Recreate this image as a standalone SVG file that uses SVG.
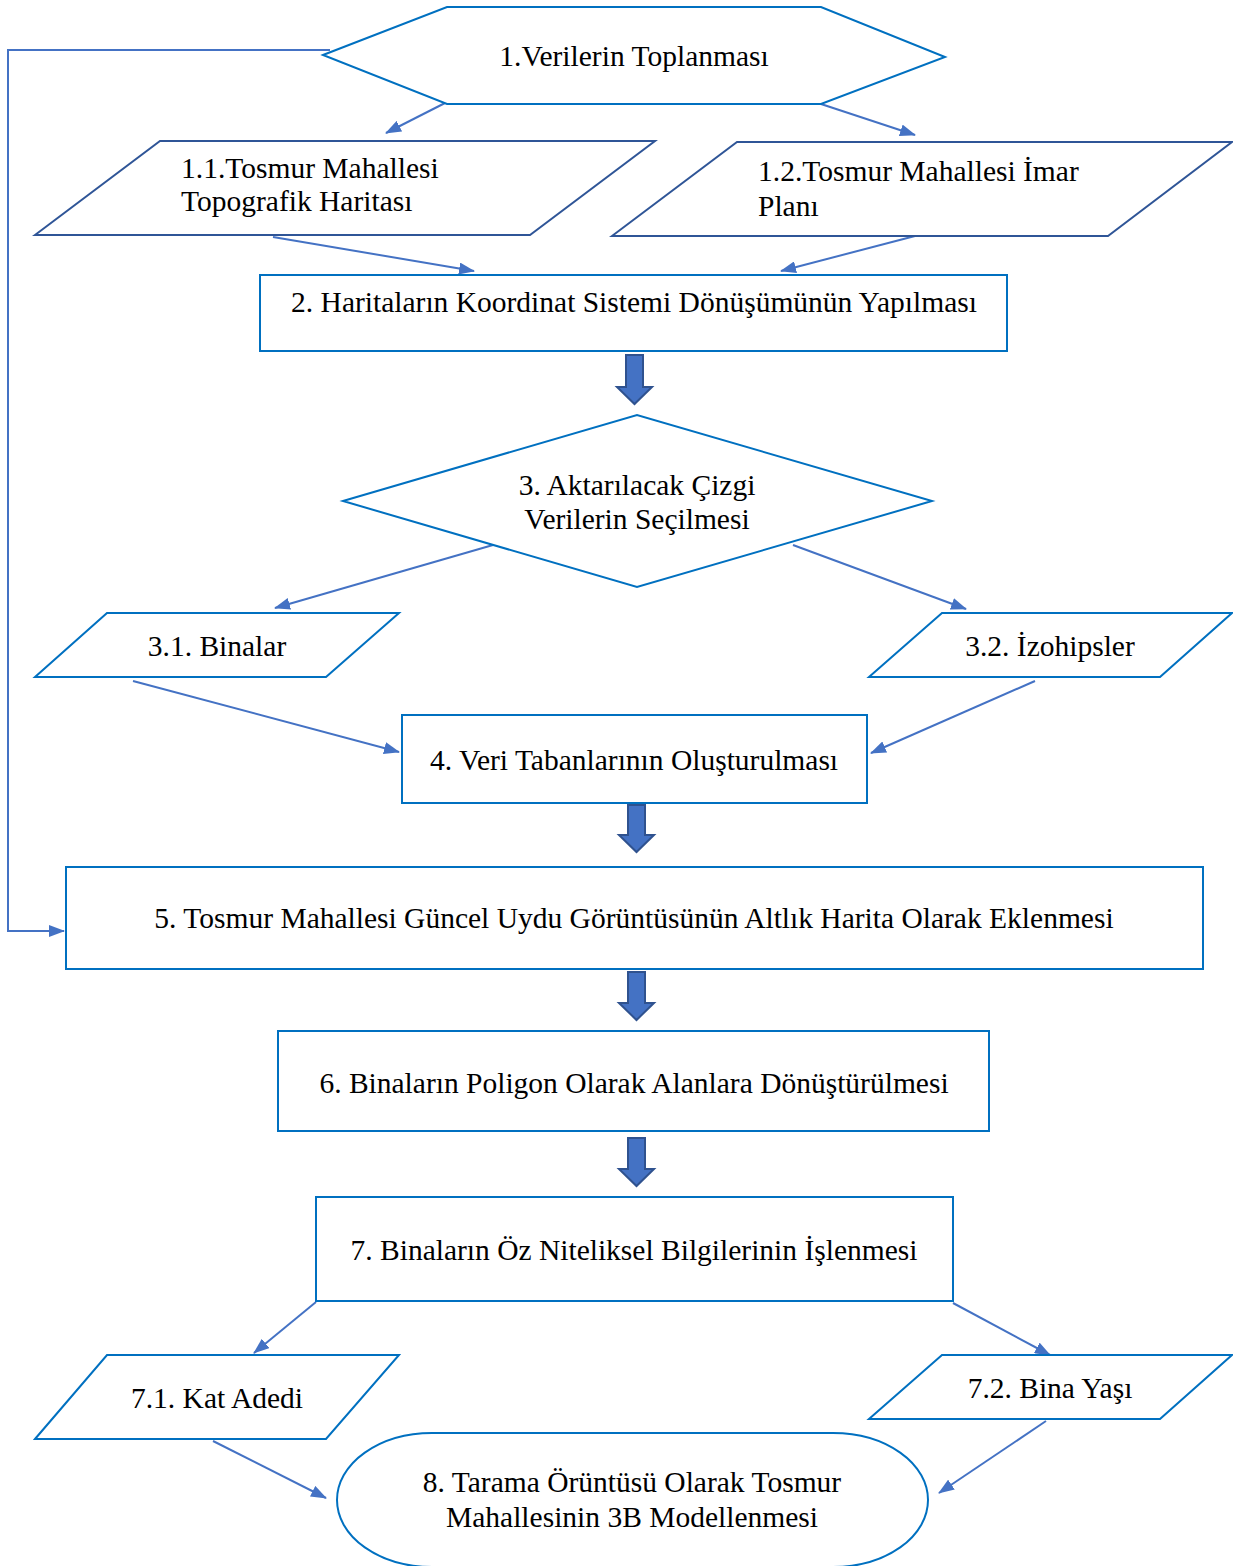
<svg xmlns="http://www.w3.org/2000/svg" width="1233" height="1566" viewBox="0 0 1233 1566">
<style>
.proc{fill:#fff;stroke:#0070C0;stroke-width:2}
.io{fill:#fff;stroke:#2F5597;stroke-width:2}
.io2{fill:#fff;stroke:#0070C0;stroke-width:2}
.con{fill:none;stroke:#4472C4;stroke-width:2;marker-end:url(#ah)}
.blk{fill:#4472C4;stroke:#2F528F;stroke-width:2}
text{font-family:"Liberation Serif","Times New Roman",serif;font-size:29.5px;fill:#000}
.c{text-anchor:middle}
</style>
<defs>
<marker id="ah" markerUnits="userSpaceOnUse" markerWidth="16" markerHeight="12" refX="15" refY="6" orient="auto">
<path d="M0,0 L16,6 L0,12 z" fill="#4472C4"/>
</marker>
</defs>
<g id="connectors">
<polyline class="con" points="330,50 8,50 8,931 64,931"/>
<line class="con" x1="447" y1="102" x2="386" y2="133"/>
<line class="con" x1="821" y1="104" x2="915" y2="135"/>
<line class="con" x1="273" y1="237" x2="474" y2="271"/>
<line class="con" x1="915" y1="236" x2="781" y2="271"/>
<line class="con" x1="493" y1="545" x2="275" y2="608"/>
<line class="con" x1="793" y1="545" x2="966" y2="609"/>
<line class="con" x1="133" y1="681" x2="399" y2="752"/>
<line class="con" x1="1035" y1="681" x2="871" y2="753"/>
<line class="con" x1="316" y1="1302" x2="254" y2="1353"/>
<line class="con" x1="953" y1="1303" x2="1050" y2="1355"/>
<line class="con" x1="213" y1="1441" x2="326" y2="1498"/>
<line class="con" x1="1046" y1="1421" x2="939" y2="1493"/>
<path class="blk" d="M626,355 H643 V387 H652 L634.5,404 L617,387 H626 Z"/>
<path class="blk" d="M628,805 H645 V835 H654 L636.5,852 L619,835 H628 Z"/>
<path class="blk" d="M628,972 H645 V1003 H654 L636.5,1020 L619,1003 H628 Z"/>
<path class="blk" d="M628,1138 H645 V1169 H654 L636.5,1186 L619,1169 H628 Z"/>
</g>
<g id="n1">
<polygon class="proc" points="323,55 447,7 821,7 945,57 821,104 447,104"/>
<text class="c" x="634" y="66">1.Verilerin Toplanması</text>
</g>
<g id="n1_1">
<polygon class="io" points="35,235 160,141 655,141 530,235"/>
<text x="181" y="178">1.1.Tosmur Mahallesi</text>
<text x="181" y="211">Topografik Haritası</text>
</g>
<g id="n1_2">
<polygon class="io" points="612,236 737,142 1232,142 1108,236"/>
<text x="758" y="181">1.2.Tosmur Mahallesi İmar</text>
<text x="758" y="216">Planı</text>
</g>
<g id="n2">
<rect class="proc" x="260" y="275" width="747" height="76"/>
<text class="c" x="634" y="312">2. Haritaların Koordinat Sistemi Dönüşümünün Yapılması</text>
</g>
<g id="n3">
<polygon class="proc" points="343,501 637,415 932,501 637,587"/>
<text class="c" x="637" y="495">3. Aktarılacak Çizgi</text>
<text class="c" x="637" y="529">Verilerin Seçilmesi</text>
</g>
<g id="n3_1">
<polygon class="io2" points="35,677 107,613 399,613 326,677"/>
<text class="c" x="217" y="656">3.1. Binalar</text>
</g>
<g id="n3_2">
<polygon class="io2" points="869,677 942,613 1232,613 1160,677"/>
<text class="c" x="1050" y="656">3.2. İzohipsler</text>
</g>
<g id="n4">
<rect class="proc" x="402" y="715" width="465" height="88"/>
<text class="c" x="634" y="770">4. Veri Tabanlarının Oluşturulması</text>
</g>
<g id="n5">
<rect class="proc" x="66" y="867" width="1137" height="102"/>
<text class="c" x="634" y="928">5. Tosmur Mahallesi Güncel Uydu Görüntüsünün Altlık Harita Olarak Eklenmesi</text>
</g>
<g id="n6">
<rect class="proc" x="278" y="1031" width="711" height="100"/>
<text class="c" x="634" y="1093">6. Binaların Poligon Olarak Alanlara Dönüştürülmesi</text>
</g>
<g id="n7">
<rect class="proc" x="316" y="1197" width="637" height="104"/>
<text class="c" x="634" y="1260">7. Binaların Öz Niteliksel Bilgilerinin İşlenmesi</text>
</g>
<g id="n7_1">
<polygon class="io2" points="35,1439 107,1355 399,1355 326,1439"/>
<text class="c" x="217" y="1408">7.1. Kat Adedi</text>
</g>
<g id="n7_2">
<polygon class="io2" points="869,1419 942,1355 1232,1355 1160,1419"/>
<text class="c" x="1050" y="1398">7.2. Bina Yaşı</text>
</g>
<g id="n8">
<rect class="proc" x="337" y="1433" width="591" height="134" rx="95" ry="67"/>
<text class="c" x="632" y="1492">8. Tarama Örüntüsü Olarak Tosmur</text>
<text class="c" x="632" y="1527">Mahallesinin 3B Modellenmesi</text>
</g>
</svg>
